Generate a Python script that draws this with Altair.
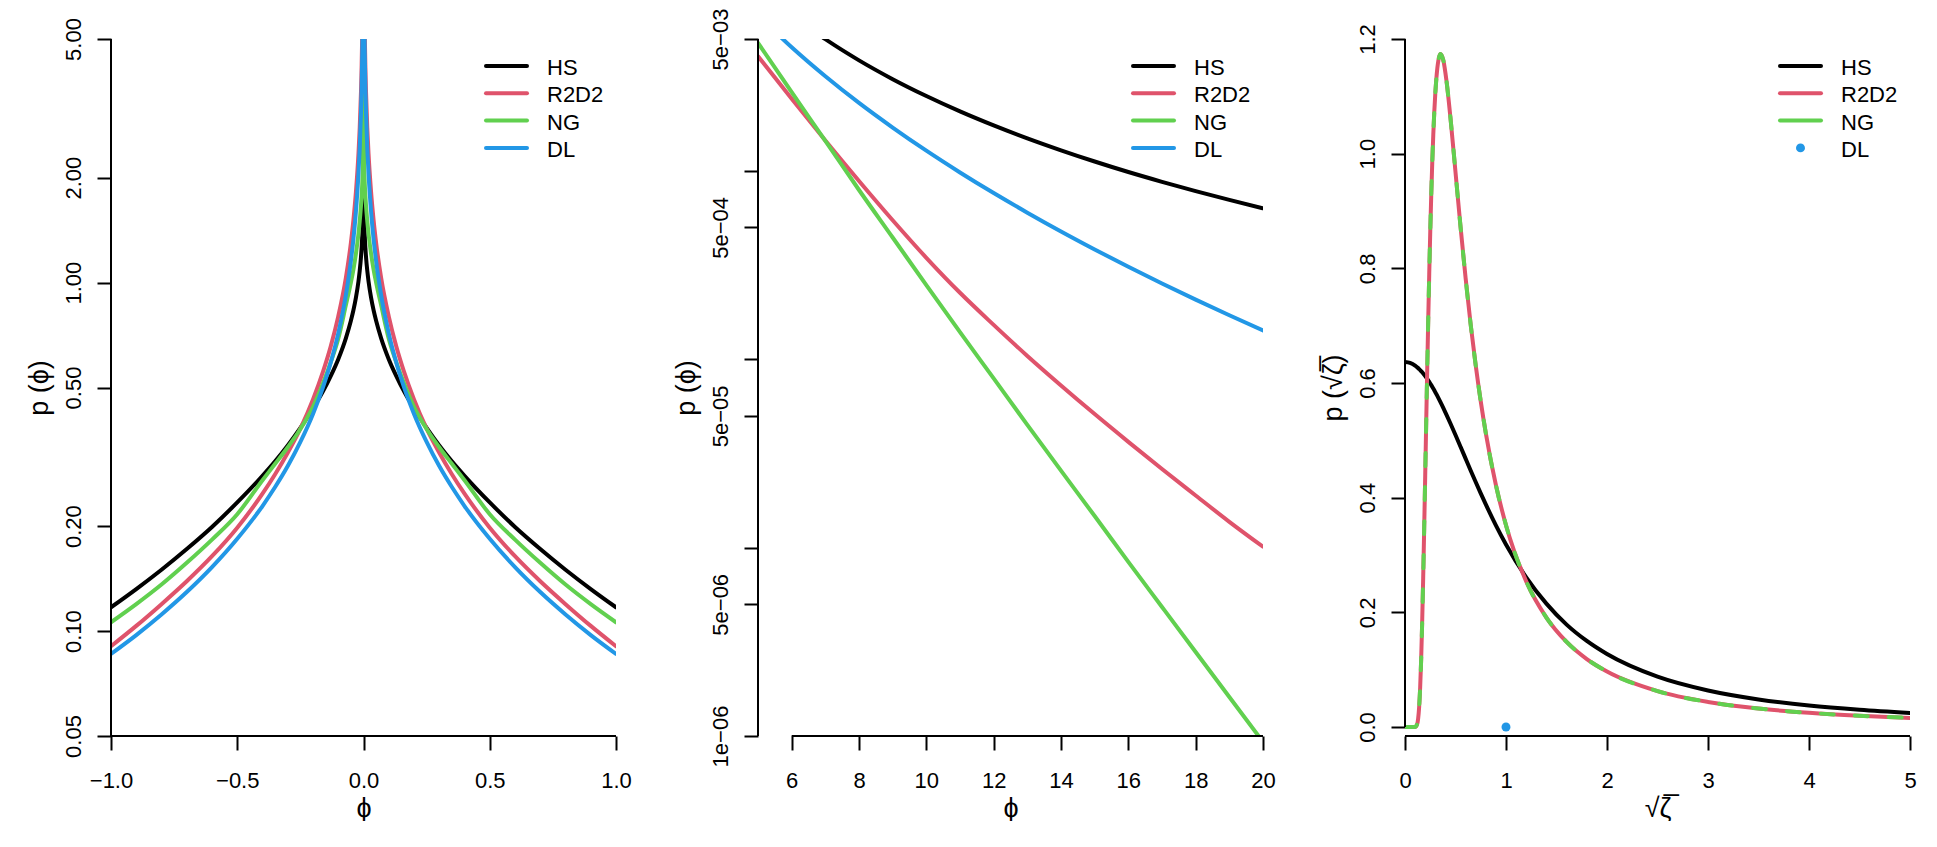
import altair as alt
import pandas as pd

FONT = "Liberation Sans"
W, H = 505, 697
LAB, TIT = 22, 27
NAMES = ["HS", "R2D2", "NG", "DL"]
COLS = ["#000000", "#DF536B", "#61D04F", "#2297E6"]

# ---------------- Panel 1 : p(phi), phi in [-1, 1] (log y) ----------------
p1_phi = [-1.0, -0.9, -0.8, -0.7, -0.6, -0.5, -0.4, -0.35, -0.3, -0.25, -0.2, -0.16, -0.13, -0.1,
          -0.07, -0.05, -0.04, -0.03, -0.02, -0.015, -0.01, -0.0075, -0.005, -0.003, -0.002,
          -0.001, -0.0005, -0.0002, -0.00005,
          0.00005, 0.0002, 0.0005, 0.001, 0.002, 0.003, 0.005, 0.0075, 0.01, 0.015, 0.02, 0.03,
          0.04, 0.05, 0.07, 0.1, 0.13, 0.16, 0.2, 0.25, 0.3, 0.35, 0.4, 0.5, 0.6, 0.7, 0.8, 0.9, 1.0]
p1_hs = [0.117, 0.132, 0.150, 0.172, 0.199, 0.234, 0.279, 0.307, 0.341, 0.383, 0.435, 0.488, 0.539,
         0.603, 0.692, 0.777, 0.833, 0.906, 1.008, 1.081, 1.184, 1.257, 1.360, 1.490, 1.593, 1.769,
         1.945, 2.178, 2.530,
         2.530, 2.178, 1.945, 1.769, 1.593, 1.490, 1.360, 1.257, 1.184, 1.081, 1.008, 0.906, 0.833,
         0.777, 0.692, 0.603, 0.539, 0.488, 0.435, 0.383, 0.341, 0.307, 0.279, 0.234, 0.199, 0.172,
         0.150, 0.132, 0.117]
p1_r2d2 = [0.0905, 0.1035, 0.1195, 0.139, 0.164, 0.198, 0.248, 0.282, 0.325, 0.381, 0.462, 0.556,
           0.655, 0.80, 1.03, 1.30, 1.51, 1.82, 2.34, 2.78, 3.52, 4.15, 5.2, 6.9, 8.6, 12.4, 17.9,
           28.5, 57.0,
           57.0, 28.5, 17.9, 12.4, 8.6, 6.9, 5.2, 4.15, 3.52, 2.78, 2.34, 1.82, 1.51, 1.30, 1.03,
           0.80, 0.655, 0.556, 0.462, 0.381, 0.325, 0.282, 0.248, 0.198, 0.164, 0.139, 0.1195,
           0.1035, 0.0905]
p1_ng = [0.106, 0.1195, 0.136, 0.157, 0.183, 0.2165, 0.271, 0.302, 0.337, 0.38, 0.44, 0.515, 0.59,
         0.69, 0.86, 1.0, 1.09, 1.21, 1.38, 1.5, 1.66, 1.77, 1.92, 2.1, 2.25, 2.5, 2.75, 3.1, 3.6,
         3.6, 3.1, 2.75, 2.5, 2.25, 2.1, 1.92, 1.77, 1.66, 1.5, 1.38, 1.21, 1.09, 1.0, 0.86, 0.69,
         0.59, 0.515, 0.44, 0.38, 0.337, 0.302, 0.271, 0.2165, 0.183, 0.157, 0.136, 0.1195, 0.106]
p1_dl = [0.0860, 0.0974, 0.1116, 0.1294, 0.1526, 0.184, 0.2285, 0.259, 0.2975, 0.349, 0.420, 0.502,
         0.589, 0.715, 0.919, 1.153, 1.332, 1.598, 2.05, 2.43, 3.07, 3.61, 4.52, 5.97, 7.42, 10.69,
         15.32, 24.5, 49.5,
         49.5, 24.5, 15.32, 10.69, 7.42, 5.97, 4.52, 3.61, 3.07, 2.43, 2.05, 1.598, 1.332, 1.153,
         0.919, 0.715, 0.589, 0.502, 0.420, 0.349, 0.2975, 0.259, 0.2285, 0.184, 0.1526, 0.1294,
         0.1116, 0.0974, 0.0860]
p1_xticks = [-1.0, -0.5, 0.0, 0.5, 1.0]
p1_yticks = [0.05, 0.1, 0.2, 0.5, 1.0, 2.0, 5.0]

# ---------------- Panel 2 : tails, phi in [5, 20] (log y) ----------------
p2_phi = [5, 6, 7, 8, 9, 10, 11, 12, 13, 14, 15, 16, 17, 18, 19, 20]
p2_hs = [9.451e-3, 6.701e-3, 4.987e-3, 3.851e-3, 3.061e-3, 2.491e-3, 2.065e-3, 1.740e-3,
         1.485e-3, 1.283e-3, 1.119e-3, 9.84e-4, 8.73e-4, 7.79e-4, 7.00e-4, 6.32e-4]
p2_r2d2 = [4.05e-3, 2.41e-3, 1.447e-3, 8.82e-4, 5.46e-4, 3.45e-4, 2.25e-4, 1.52e-4, 1.04e-4,
           7.25e-5, 5.11e-5, 3.64e-5, 2.61e-5, 1.89e-5, 1.37e-5, 1.01e-5]
p2_ng = [4.77e-3, 2.61e-3, 1.44e-3, 7.9e-4, 4.42e-4, 2.47e-4, 1.39e-4, 7.9e-5, 4.48e-5, 2.56e-5,
         1.47e-5, 8.4e-6, 4.84e-6, 2.79e-6, 1.61e-6, 9.3e-7]
p2_dl = [6.692e-3, 4.518e-3, 3.170e-3, 2.289e-3, 1.694e-3, 1.277e-3, 9.79e-4, 7.61e-4, 5.99e-4,
         4.76e-4, 3.82e-4, 3.09e-4, 2.52e-4, 2.07e-4, 1.71e-4, 1.42e-4]
p2_xticks = [6, 8, 10, 12, 14, 16, 18, 20]
p2_yticks = [1e-06, 5e-06, 1e-05, 5e-05, 1e-04, 5e-04, 1e-03, 5e-03]
p2_ylabels = ["1e\u221206", "5e\u221206", "", "5e\u221205", "", "5e\u221204", "", "5e\u221203"]

# ---------------- Panel 3 : p(sqrt(zeta)) ----------------
p3_x = [0, 0.05, 0.1, 0.12, 0.13, 0.14, 0.15, 0.16, 0.17, 0.18, 0.19, 0.2, 0.21, 0.22, 0.23, 0.24,
        0.25, 0.26, 0.27, 0.28, 0.29, 0.3, 0.31, 0.32, 0.33, 0.35, 0.38, 0.41, 0.45, 0.5, 0.55,
        0.6, 0.65, 0.7, 0.75, 0.8, 0.9, 1.0, 1.2, 1.4, 1.6, 1.8, 2.0, 2.5, 3.0, 3.5, 4.0, 4.5, 5.0]
p3_hs = [0.6366, 0.6350, 0.6303, 0.6275, 0.6260, 0.6243, 0.6226, 0.6207, 0.6187, 0.6166, 0.6144,
         0.6121, 0.6097, 0.6071, 0.6045, 0.6019, 0.5992, 0.5963, 0.5934, 0.5903, 0.5873, 0.5840,
         0.5808, 0.5775, 0.5741, 0.5671, 0.5563, 0.5450, 0.5294, 0.5093, 0.4888, 0.4681, 0.4475,
         0.4272, 0.4074, 0.3882, 0.3517, 0.3183, 0.2611, 0.2152, 0.1786, 0.1501, 0.1273, 0.0878,
         0.0637, 0.0481, 0.0374, 0.0300, 0.0245]
p3_r2d2 = [0.0, 0.0, 0.0001, 0.0047, 0.0145, 0.0346, 0.0685, 0.118, 0.1826, 0.260, 0.3463, 0.438,
           0.5316, 0.623, 0.710, 0.791, 0.8637, 0.929, 0.985, 1.033, 1.073, 1.105, 1.130, 1.149,
           1.162, 1.1737, 1.1625, 1.128, 1.0626, 0.9678, 0.8723, 0.7831, 0.7023, 0.6308, 0.5679,
           0.5127, 0.4221, 0.3520, 0.2540, 0.1909, 0.1484, 0.1185, 0.0967, 0.0626, 0.0437, 0.0322,
           0.0247, 0.0196, 0.0159]
p3_ng = [0.0, 0.0, 0.0001, 0.0047, 0.0145, 0.0346, 0.0685, 0.118, 0.1826, 0.260, 0.3463, 0.438,
         0.5316, 0.623, 0.710, 0.791, 0.8637, 0.929, 0.985, 1.033, 1.073, 1.105, 1.130, 1.149,
         1.162, 1.1737, 1.1625, 1.128, 1.0626, 0.9678, 0.8723, 0.7831, 0.7023, 0.6308, 0.5679,
         0.5127, 0.4221, 0.3520, 0.2540, 0.1909, 0.1484, 0.1185, 0.0967, 0.0626, 0.0437, 0.0322,
         0.0247, 0.0196, 0.0159]
p3_dl_x = [1.0]
p3_dl_y = [0.0]
p3_xticks = [0, 1, 2, 3, 4, 5]
p3_yticks = [0.0, 0.2, 0.4, 0.6, 0.8, 1.0, 1.2]


def long_df(x, cols, names):
    rows = []
    for name, ys in zip(names, cols):
        for a, b in zip(x, ys):
            rows.append({"x": a, "y": b, "s": name})
    return pd.DataFrame(rows)


def x_axis(values, fmt, title):
    return alt.Axis(values=values, format=fmt, title=title, domain=False, grid=False,
                    tickSize=14, tickWidth=2, tickColor="black",
                    labelFont=FONT, labelFontSize=LAB, labelColor="black",
                    labelPadding=37, labelBaseline="alphabetic", labelAlign="center",
                    labelFlush=False, labelOverlap=False,
                    titleFont=FONT, titleFontSize=TIT, titleFontWeight="normal",
                    titleColor="black", titleX=W / 2, titleY=72, titleBaseline="middle",
                    titleAlign="center")


def y_axis(values, title, fmt=None, expr=None):
    kw = dict(values=values, title=title, domain=False, grid=False,
              tickSize=14, tickWidth=2, tickColor="black",
              labelFont=FONT, labelFontSize=LAB, labelColor="black",
              labelAngle=270, labelAlign="center", labelBaseline="alphabetic",
              labelPadding=17, labelFlush=False, labelOverlap=False,
              titleFont=FONT, titleFontSize=TIT, titleFontWeight="normal",
              titleColor="black", titleAngle=270, titleX=-72, titleY=H / 2,
              titleBaseline="middle", titleAlign="center")
    if fmt is not None:
        kw["format"] = fmt
    if expr is not None:
        kw["labelExpr"] = expr
    return alt.Axis(**kw)


def legend_layers(point_for_dl=False):
    layers = []
    for i, (name, col) in enumerate(zip(NAMES, COLS)):
        yy = 27 + 27.3 * i
        d = pd.DataFrame({"lab": [name]})
        if point_for_dl and name == "DL":
            layers.append(alt.Chart(d).mark_point(filled=True, size=80, color=col, opacity=1)
                          .encode(x=alt.value(395.5), y=alt.value(yy)))
        else:
            layers.append(alt.Chart(d).mark_rule(color=col, strokeWidth=4, strokeCap="round")
                          .encode(x=alt.value(375), x2=alt.value(416), y=alt.value(yy)))
        layers.append(alt.Chart(d).mark_text(align="left", baseline="alphabetic", font=FONT,
                                             fontSize=LAB, color="black")
                      .encode(x=alt.value(436), y=alt.value(yy + 9), text="lab:N"))
    return layers


def panel(df, xscale, yscale, xaxis, yaxis, xline, yline, styles, point_df=None):
    X = alt.X("x:Q", scale=xscale, axis=xaxis)
    Y = alt.Y("y:Q", scale=yscale, axis=yaxis)
    layers = []
    for name, col, dash in styles:
        mk = dict(color=col, strokeWidth=4, strokeCap="round", strokeJoin="round",
                  clip=True, interpolate="monotone")
        if dash is not None:
            mk["strokeDash"] = dash
        layers.append(alt.Chart(df).transform_filter(alt.datum.s == name)
                      .mark_line(**mk).encode(x=X, y=Y))
    if point_df is not None:
        layers.append(alt.Chart(point_df).mark_point(filled=True, size=80, color=COLS[3],
                                                     opacity=1).encode(x=X, y=Y))
    one = pd.DataFrame({"a": [0]})
    layers.append(alt.Chart(one).mark_rule(color="black", strokeWidth=2).encode(
        x=alt.value(0),
        y=alt.YDatum(yline[0], type="quantitative", scale=yscale, axis=yaxis),
        y2=alt.Y2Datum(yline[1])))
    layers.append(alt.Chart(one).mark_rule(color="black", strokeWidth=2).encode(
        x=alt.XDatum(xline[0], type="quantitative", scale=xscale, axis=xaxis),
        x2=alt.X2Datum(xline[1]),
        y=alt.value(H)))
    layers += legend_layers(point_for_dl=point_df is not None)
    return alt.layer(*layers).properties(width=W, height=H)


styles4 = [(n, c, None) for n, c in zip(NAMES, COLS)]

# Panel 1
df1 = long_df(p1_phi, [p1_hs, p1_r2d2, p1_ng, p1_dl], NAMES)
ch1 = panel(df1,
            alt.Scale(domain=[-1, 1], nice=False, zero=False),
            alt.Scale(type="log", domain=[0.05, 5], nice=False),
            x_axis(p1_xticks, ".1f", "\u03d5"),
            y_axis(p1_yticks, "p (\u03d5)", fmt=".2f"),
            (p1_xticks[0], p1_xticks[-1]), (p1_yticks[0], p1_yticks[-1]), styles4)

# Panel 2
expr2 = "".join("datum.value == %r ? '%s' : " % (v, s) for v, s in zip(p2_yticks, p2_ylabels)) + "''"
df2 = long_df(p2_phi, [p2_hs, p2_r2d2, p2_ng, p2_dl], NAMES)
ch2 = panel(df2,
            alt.Scale(domain=[5, 20], nice=False, zero=False),
            alt.Scale(type="log", domain=[1e-06, 5e-03], nice=False),
            x_axis(p2_xticks, "d", "\u03d5"),
            y_axis(p2_yticks, "p (\u03d5)", expr=expr2),
            (p2_xticks[0], p2_xticks[-1]), (p2_yticks[0], p2_yticks[-1]), styles4)

# Panel 3
df3 = long_df(p3_x, [p3_hs, p3_r2d2, p3_ng], NAMES[:3])
pt3 = pd.DataFrame({"x": p3_dl_x, "y": p3_dl_y})
styles3 = [("HS", COLS[0], None), ("R2D2", COLS[1], None), ("NG", COLS[2], [13, 21])]
ch3 = panel(df3,
            alt.Scale(domain=[0, 5], nice=False, zero=False),
            alt.Scale(domain=[-0.0157, 1.2], nice=False, zero=False),
            x_axis(p3_xticks, "d", "\u221a\u03b6\u0305"),
            y_axis(p3_yticks, "p (\u221a\u03b6\u0305)", fmt=".1f"),
            (p3_xticks[0], p3_xticks[-1]), (p3_yticks[0], p3_yticks[-1]), styles3,
            point_df=pt3)

chart = alt.hconcat(ch1, ch2, ch3, spacing=142, bounds="flush").properties(
    padding={"left": 17, "top": 0, "right": 5, "bottom": 0},
    background="white",
).configure_view(stroke=None)

chart.save("out.html", embed_options={"renderer": "svg", "actions": False})
